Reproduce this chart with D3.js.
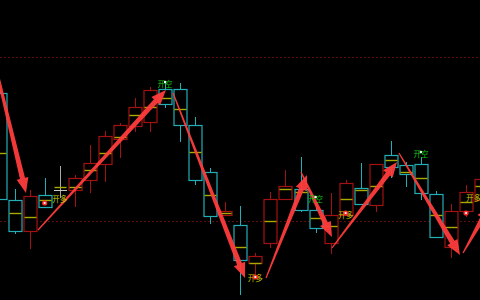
<!DOCTYPE html>
<html>
<head>
<meta charset="utf-8">
<script src="https://cdn.jsdelivr.net/npm/d3@7"></script>
<style>
  html, body { margin: 0; padding: 0; background: #000; }
  #wrapper { width: 480px; height: 300px; overflow: hidden; }
</style>
</head>
<body>
<div id="wrapper"></div>
<script>
// candle data (price units)
const opens  = [207,100, 69,105,110,110,120,136,161,174,178,211,211,175,128, 85, 75, 37, 57,101,111, 90, 57, 85,112, 95,145,135,136,106, 53, 89,100];
const closes = [101, 69,104, 93,110,122,137,164,175,193,210,196,175,120, 84, 89, 40, 44,101,114, 90, 72, 85,117, 96,136,133,126,107, 63, 89,108,121];
const highs  = [210,111,110,122,134,125,155,169,177,202,213,217,217,183,132, 98, 94, 47,108,130,143, 93,107,120,137,136,159,138,143,109, 96,115,130];
const lows   = [101, 66, 51, 93,102, 93,107,118,142,168,168,192,158,115, 76, 85,  5, 25, 52,101, 88, 67, 46, 85, 95, 88,122,113,100, 62, 42, 83, 95];
const mids   = [147, 87, 83,100,113,113,130,147,163,185,193,202,191,148,105, 87, 53, 37, 79,111,108, 82, 74,101,110,114,140,128,122, 85, 73, 98,114];

// reference levels (dotted)
const levels = [243, 79];

// signal arrows: [x index from, price from, x index to, price to]
const arrows = [
  [-1.16, 290,  1.76, 107],
  [ 2.56,  70, 11.06, 210],
  [11.53, 207, 16.31,  22],
  [17.71,  22, 20.43, 125],
  [20.03, 128, 22.09,  63],
  [22.09,  52, 26.41, 138],
  [26.54, 147, 30.60,  45],
  [30.80,  47, 32.60,  95],
];

// signal labels and dots
const buyLabels  = [[4, 102], [17, 23], [23, 86], [31.5, 103]];
const buyDots    = [[3, 97], [17, 23], [23, 87], [31, 87]];
const sellLabels = [[11, 217], [21, 102], [28, 147]];
const sellDots   = [[11, 218], [21, 103], [28, 148]];

function drawChart(){
    let dimensions = {
        width: 480,
        height: 300,
        margin: { top: 0, right: 0, bottom: 0, left: 0 },
    }
    dimensions.boundedWidth = dimensions.width - dimensions.margin.left - dimensions.margin.right;
    dimensions.boundedHeight = dimensions.height - dimensions.margin.top - dimensions.margin.bottom;

    const wrapper = d3.select("#wrapper")
        .append("svg")
        .attr("width", dimensions.width)
        .attr("height", dimensions.height)
        .style("background", "#000");

    const bounds = wrapper.append("g")
        .attr("transform", `translate(${dimensions.margin.left},${dimensions.margin.top})`);

    const xScale = d3.scaleLinear()
        .domain([0, 32])
        .range([-0.5, 481.1]);
    const yScale = d3.scaleLinear()
        .domain([0, 300])
        .range([dimensions.boundedHeight, 0]);

    const up = "#a31212", down = "#22aeb6", flat = "#a8a8a8";
    const candles = opens.map((o, i) => ({
        i, o, c: closes[i], h: highs[i], l: lows[i], m: mids[i]
    }));
    const colorOf = d => d.c > d.o ? up : d.c < d.o ? down : flat;

    // dotted levels
    bounds.selectAll(".level")
        .data(levels)
        .join("line")
        .attr("x1", 0).attr("x2", dimensions.boundedWidth)
        .attr("y1", d => Math.round(yScale(d)) + 0.5)
        .attr("y2", d => Math.round(yScale(d)) + 0.5)
        .attr("stroke", "#5e0c0c")
        .attr("stroke-dasharray", "2,2");

    const bodyW = 13;
    const cx = d => Math.round(xScale(d.i)) + 0.5;

    // wicks
    bounds.selectAll(".wick")
        .data(candles)
        .join("line")
        .attr("x1", cx).attr("x2", cx)
        .attr("y1", d => yScale(d.h))
        .attr("y2", d => yScale(d.l))
        .attr("stroke", colorOf)
        .attr("stroke-width", 1);

    // hollow bodies
    const bodies = candles.filter(d => d.o !== d.c);
    bounds.selectAll(".body")
        .data(bodies)
        .join("rect")
        .attr("x", d => cx(d) - bodyW / 2)
        .attr("y", d => Math.round(yScale(Math.max(d.o, d.c))) + 0.5)
        .attr("width", bodyW)
        .attr("height", d => Math.max(1, Math.round(Math.abs(yScale(d.o) - yScale(d.c)))))
        .attr("fill", "#000")
        .attr("stroke", colorOf)
        .attr("stroke-width", 1.2);

    // doji line
    bounds.selectAll(".doji")
        .data(candles.filter(d => d.o === d.c))
        .join("line")
        .attr("x1", d => cx(d) - bodyW / 2)
        .attr("x2", d => cx(d) + bodyW / 2)
        .attr("y1", d => Math.round(yScale(d.o)) + 0.5)
        .attr("y2", d => Math.round(yScale(d.o)) + 0.5)
        .attr("stroke", "#c8c8c8");

    // yellow mid marks
    bounds.selectAll(".mid")
        .data(candles)
        .join("line")
        .attr("x1", d => cx(d) - bodyW / 2 + 0.5)
        .attr("x2", d => cx(d) + bodyW / 2 - 0.5)
        .attr("y1", d => Math.round(yScale(d.m)) + 0.5)
        .attr("y2", d => Math.round(yScale(d.m)) + 0.5)
        .attr("stroke", "#a9a900")
        .attr("stroke-width", 1.4);

    // tapered arrows
    const arrowPath = a => {
        const sx = xScale(a[0]), sy = yScale(a[1]);
        const tx = xScale(a[2]), ty = yScale(a[3]);
        const len = Math.hypot(tx - sx, ty - sy);
        const ux = (tx - sx) / len, uy = (ty - sy) / len;
        const nx = -uy, ny = ux;
        const hl = 15, hw = 6, w0 = 0.6, w1 = 2.6;
        const bx = tx - ux * hl, by = ty - uy * hl;
        const pts = [
            [sx + nx * w0, sy + ny * w0],
            [bx + nx * w1, by + ny * w1],
            [bx + nx * hw, by + ny * hw],
            [tx, ty],
            [bx - nx * hw, by - ny * hw],
            [bx - nx * w1, by - ny * w1],
            [sx - nx * w0, sy - ny * w0],
        ];
        return "M" + pts.map(p => p.join(",")).join("L") + "Z";
    };
    bounds.selectAll(".arrow")
        .data(arrows)
        .join("path")
        .attr("d", arrowPath)
        .attr("fill", "#ff3c3c")
        .attr("fill-opacity", 0.95);

    // signal labels
    const label = (data, txt, color) => bounds.append("g")
        .selectAll("text")
        .data(data)
        .join("text")
        .attr("x", d => xScale(d[0]))
        .attr("y", d => yScale(d[1]))
        .attr("text-anchor", "middle")
        .attr("dominant-baseline", "central")
        .attr("font-family", "'Noto Sans CJK SC', sans-serif")
        .attr("font-size", "7.5px")
        .attr("fill", color)
        .text(txt);
    label(buyLabels, "开多", "#c9c900");
    label(sellLabels, "开空", "#12c212");

    bounds.selectAll(".bdot")
        .data(buyDots)
        .join("circle")
        .attr("cx", d => xScale(d[0]))
        .attr("cy", d => yScale(d[1]))
        .attr("r", 2.6)
        .attr("fill", "#ff2a2a");
    bounds.selectAll(".bdot2")
        .data(buyDots)
        .join("circle")
        .attr("cx", d => xScale(d[0]))
        .attr("cy", d => yScale(d[1]))
        .attr("r", 1.1)
        .attr("fill", "#fff");
    bounds.selectAll(".sdot")
        .data(sellDots)
        .join("circle")
        .attr("cx", d => xScale(d[0]))
        .attr("cy", d => yScale(d[1]))
        .attr("r", 1.3)
        .attr("fill", "#e8ffe8");
}

drawChart()
</script>
</body>
</html>
